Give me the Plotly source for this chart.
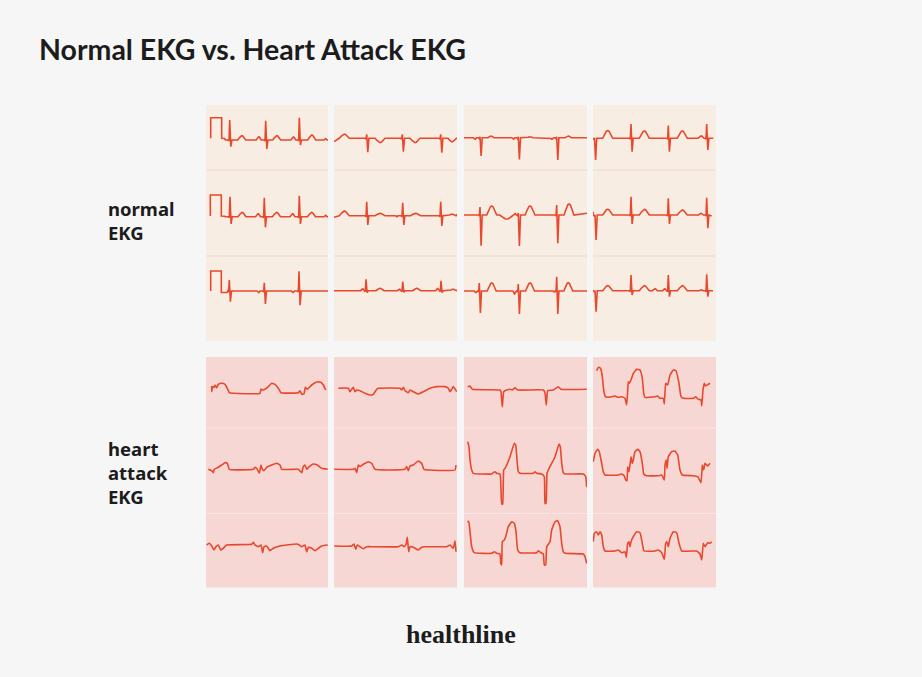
import plotly.graph_objects as go

W, H = 922, 677

# ------------------------------------------------------------------ data
# Time axis: small-square units measured from each panel's left edge.
# Amplitude: units above (+) / below (-) the strip's isoelectric line.

# ---- normal EKG ----  (QRS = (x, R height, S depth); WAVES = (x, height, half width))
N11_CAL = [(4.7, 1.7), (4.7, 22.3), (15.7, 22.3), (15.7, 1.7), (18.5, 1.5), (19.5, 0)]
N11_QRS = [(23.7, 20, 6.7), (59.7, 19.3, 9), (93.3, 22.3, 5)]
N11_WAVES = [(35.7, 4.3, 4), (52.7, 3.3, 2.5), (70.7, 4.3, 4), (87.3, 3, 2.5), (105.7, 5, 4), (119.5, 1.5, 1.5)]
N11_ENDS = [(4.7, 1.7), (122, 0)]

N12_CAL = [(4.3, 0.7), (4.3, 21.7), (15.3, 21.7), (15.3, 0.7), (18.5, 0.5), (19.5, 0)]
N12_QRS = [(24, 20, 7.3), (58.3, 19, 10.6), (93.3, 21, 7.3)]
N12_WAVES = [(36, 4.4, 4), (52, 3, 2.5), (70.5, 4.4, 4), (86.5, 3, 2.5), (105.5, 4.4, 4), (119.5, 1.5, 1.5)]
N12_ENDS = [(4.3, 0.7), (122, 0)]

N13_CAL = [(4.7, 0), (4.7, 20), (15.3, 20), (15.3, -1.5), (21, -1.5)]
N13_QRS = [(23.3, 11, 10.7), (58.3, 8.3, 13), (93, 19.7, 14.3)]
N13_WAVES = [(52.5, -1.7, 1.5), (87, -1.7, 1.5)]
N13_ENDS = [(4.7, 0), (122, 0)]

N21_QRS = [(32.7, 4, 14), (68.3, 4, 13.4), (106.7, 4, 14.4)]
N21_WAVES = [(10.3, 4.3, 5), (46, -4.3, 5), (81, -4.3, 5), (118, -3.5, 4)]
N21_ENDS = [(0, -3.3), (123, 0.5)]

N22_QRS = [(32.7, 14, 9.3), (68.7, 13, 9.3), (106.7, 14, 10.3)]
N22_WAVES = [(10.3, 4.7, 5), (46, 2.3, 5), (62.7, -1, 1.2), (81.5, 2.3, 5), (118, 1.5, 4)]
N22_ENDS = [(0, -1.6), (123, 1.4)]

N23_QRS = [(32, 11.3, 2), (68.7, 9, 1.7), (107, 10, 2)]
N23_WAVES = [(28.5, 2, 1.8), (46, 2.3, 4), (65, 1.5, 2), (82.7, 2.3, 4), (103.5, 2.3, 1.8), (119, 1.5, 3)]
N23_ENDS = [(0, 0), (123, 0)]

N31_QRS = [(16, 1, 18.3), (54.3, 1, 21.7), (92.7, 1, 22.3)]
N31_WAVES = [(11, -1.7, 1.5), (27, 1.7, 3), (49.3, -1.5, 1.5), (66, 1, 3), (88, -1.5, 1.5), (104.3, 1.7, 3)]
N31_ENDS = [(0, 0), (123, 0)]

N32_QRS = [(16, 8, 30.7), (54.3, 2, 31), (92.7, 10, 28.3)]
N32_WAVES = [(27.7, 9, 5), (42.7, -4, 7), (51, 1.5, 1), (66, 9, 5), (105, 11, 5)]
N32_ENDS = [(0, 0), (123, 1.7)]

N33_QRS = [(15.3, 8, 22), (54.3, 7, 23), (92.7, 14.3, 23)]
N33_WAVES = [(11.7, -1.7, 1.5), (27.7, 8, 4.5), (50.5, -3, 1.5), (66, 8, 4.5), (89.8, -1, 1), (104.3, 8.3, 4.5)]
N33_ENDS = [(0, 0), (123, 0)]

N41_QRS = [(1.5, 0.5, 21.7), (38, 14.3, 13.3), (75.3, 12.7, 13.3), (113.7, 14.3, 11.7)]
N41_WAVES = [(14.7, 7.7, 5), (51.3, 7.3, 5), (89.3, 7.3, 5), (108, 2.5, 3)]
N41_ENDS = [(0, 0), (120.3, 0)]

N42_QRS = [(2, 0, 25), (38, 18.3, 9), (75.3, 16.7, 9), (113.7, 17.3, 13.3)]
N42_WAVES = [(14.7, 5.7, 5), (51.3, 5.7, 5), (89.3, 5, 5), (108, 1.7, 2.5)]
N42_ENDS = [(0, 3.3), (118.7, -1)]

N43_QRS = [(2, 0, 21), (38, 15.7, 4.3), (75.3, 15.7, 6), (113.7, 16.3, 6)]
N43_WAVES = [(14.7, 5, 5), (51.3, 5, 5), (62, 2, 2.5), (71.5, 2, 1.8), (89.3, 5, 5), (108, 1, 2)]
N43_ENDS = [(0, 0), (120, 0)]

# ---- heart attack EKG ---- (traced points: time, amplitude)
H11 = [(5.7, 6.7), (5.7, 1), (6.7, 6), (8, 5.3), (9, 7.7), (10.7, 5), (12.3, 8.3), (15.7, 9.4), (19, 8.4),
       (21.3, 4.4), (23.3, 0), (27.3, -0.6), (54, -0.6), (55, 3.7), (56.7, 2.7), (59, 3.4), (62.3, 6),
       (65.7, 9.4), (69, 8.4), (72.3, 4.4), (75, 0), (92.3, 0), (94, 2), (95.7, -1.6), (98, -1.3),
       (99.3, 5.4), (101.3, 3.4), (105.7, 7.7), (110.7, 10.7), (114.7, 10.4), (117.3, 7.7), (119.7, 2.7)]
H12 = [(2.3, 0), (5.7, -1.4), (7.3, -3.4), (8.3, 0), (12.3, 2), (15.7, 4.3), (19, 6.6), (21.3, 6), (23.3, 0),
       (47.3, 0), (49, 2), (51.3, 0), (53.3, -4), (55, 4.3), (56.3, 0), (58, -1.4), (60.7, 2), (65.7, 4.3),
       (70.7, 6), (74, 4.3), (75.7, 0), (92.3, 0), (94, -1.7), (95.7, -3.4), (97.3, 2.7), (99, 4.3),
       (100.7, 0), (103.3, 2.7), (107.3, 5.3), (111.3, 4.3), (115.7, 1), (121.7, 0)]
H13 = [(0.7, -0.7), (3.3, 1), (5.7, -1.7), (8, -5.7), (10, -2.3), (12.3, -0.7), (14.7, -5.7), (17.3, -4),
       (20.7, -0.7), (45.7, 0), (47.3, 2), (49, -0.7), (52.3, -2.4), (55, -0.7), (56.7, -8.4), (58, -2.4),
       (60.7, -1.7), (64, -6.4), (67.3, -4), (74, -1.7), (90.7, 0.3), (93.3, -0.7), (95.7, -2.4), (99, -0.7),
       (100.7, -7.7), (102.3, -3), (105.7, -4), (109, -6.4), (112.3, -4), (115.7, -1.7), (121.7, -0.7)]
H21 = [(4.3, 0), (14.3, 0), (16, -3.4), (17.7, -1), (19.3, 1), (21, -3.4), (22.7, -1.7), (26, -2.4), (31, -5),
       (36, -6.7), (39.3, -6), (42.7, -1), (44.3, 0), (66, 0), (67.7, -1.7), (69.3, 1), (71, -2.4), (74.3, -4.4),
       (76, -1.7), (79.3, -3.4), (84.3, -5.7), (89.3, -3.4), (96, 0), (102.7, 1.7), (111, 1.7), (114.3, 0),
       (116, -3.4), (117.7, -1), (119.3, 1.7), (122.7, -3.4)]
H22 = [(0.3, 0), (19.3, 0), (21, 1), (22.7, -3.4), (24.3, 4.3), (26, 2.7), (29.3, 5), (34.3, 7.6), (37.7, 6),
       (41, 0), (71, 0), (72.7, 2.7), (74.3, -1.4), (76, 3.3), (79.3, 4.3), (84.3, 8.3), (87.7, 6), (90, 0),
       (121, -0.7), (122, 4.3)]
H23 = [(0.3, 0), (17.7, 0), (20, 2), (21.7, -3.3), (23.3, 1), (26, -0.7), (29.3, -2.7), (32.7, -0.7),
       (39.3, -0.7), (64.3, -0.7), (67.7, 1), (70, -0.7), (72, 1.7), (73.3, 8.7), (74.7, -5.7), (76, -0.7),
       (79.3, -1.3), (84.3, -4), (87.7, -1.3), (91, -0.7), (112.7, -0.7), (116, 1), (119.3, -2.3), (121, 5.3),
       (122, -5.7)]
H31 = [(3.7, 2.6), (6, 3.3), (8.3, 0), (36, -0.7), (37, -2.4), (38.3, -17.4), (39.7, -2.4), (42.7, -0.7),
       (46, 0), (48.3, -0.7), (51, 1.6), (53.7, -0.7), (79.3, -0.7), (81, -3.4), (82.3, -15.7), (83.7, -1.3),
       (89.3, -0.7), (94.3, 2.6), (97, 0), (122.7, 0)]
H32 = [(3.7, 32.3), (5, 27.3), (6, 14), (7.7, 4), (9.3, 0.7), (27.7, 0), (29.3, 1.3), (31, 2.3), (32.7, 0.7),
       (36, 0), (37, -16), (37.7, -30), (38.7, -30), (39.7, 4), (41, 5.7), (46, 17.3), (50.3, 30.7), (51.7, 29),
       (53, 14), (54.3, 2.3), (56, 0.7), (69.3, 0.7), (71, 2.3), (72.7, 0.7), (77.7, 0), (80.3, -2.7),
       (81, -29.3), (82, -29.3), (83, 0.7), (84.3, 4), (91, 17.3), (95, 30), (96.3, 27.3), (97.7, 10.7),
       (99.3, 1.3), (101, 0), (119.3, 0), (121.7, -2.7), (122.7, -13.3)]
H33 = [(3.7, 32.6), (5, 30.6), (6, 21.6), (7.7, 6.6), (10.3, 0.6), (27.7, 0), (30.3, 1.6), (32.7, 0), (36, -0.7),
       (36.7, -10), (37.7, -11.7), (38.3, 11.6), (40.3, 13.3), (41.7, 16.6), (44.3, 26.6), (47.7, 31.6),
       (50.3, 30), (52, 21.6), (53.7, 3.3), (56, 0.6), (72.7, 0.6), (74.3, 2.6), (77, 0.6), (79.3, -0.7),
       (80.3, -11.7), (81.7, -11.7), (82.7, 6.6), (86, 11.6), (87.7, 23.3), (91, 31.6), (93.7, 32.6), (96, 26.6),
       (97.7, 10), (99.3, 1.6), (101, 0), (119.3, -0.7), (121, -3.3), (122.7, -10)]
H41 = [(3.7, 27.6), (4.7, 30), (6.3, 31), (8, 29), (9.3, 21.6), (10.7, 8.3), (12, 2.3), (13.7, 1), (18.7, 1.6),
       (22, 2.3), (25.3, 1), (28.7, 1.6), (32, 0), (33.7, -6.7), (34.7, 8.3), (35.3, 16.6), (36.3, 15), (38, 18.3),
       (40.3, 25), (43.7, 29), (47, 28.3), (49.3, 20), (50.7, 5), (52, 1), (62, 1.6), (64.7, 2.3), (67, 0),
       (70.3, 0), (71.3, -5.7), (72.7, 15), (74.7, 13.3), (77, 23.3), (80.3, 28.3), (83, 27.6), (86, 15),
       (88, 1.6), (90.3, 0), (100.3, 0), (102.7, 1.6), (105.3, -1), (108, -1.7), (108.7, -7.7), (110, 8.3),
       (111.3, 15), (112.7, 12.3), (115.3, 14), (117, 15)]
H42 = [(0.3, 13.3), (2, 21.7), (4.7, 25.7), (6.3, 23.3), (8.7, 11.7), (10.3, 3.3), (12, 0), (25.3, 0), (28.7, 1),
       (31.3, -1), (32.7, -5), (34, -5.7), (34.7, 8.3), (36, 3.3), (37, 10), (38, 18.3), (39.3, 11.7), (40.3, 15),
       (42, 23.3), (44.7, 25.7), (47, 23.3), (49.3, 11.7), (50.7, 1), (53.7, -0.7), (65.3, -0.7), (68.7, 0),
       (71.3, -5), (72, 10), (73.3, 15), (74, 6.7), (75.3, 18.3), (78.7, 23.3), (82, 24), (84.7, 20), (87, 5),
       (89.3, 0), (100.3, -0.7), (104.7, -1.7), (108, -7.7), (109.3, 10), (110.7, 5), (112, 11.7), (114.7, 9),
       (117, 11.7)]
H43 = [(0.3, 10), (1.3, 18.4), (3.7, 20), (5.3, 16.7), (7, 20), (8.7, 16.7), (10.3, 5), (12, 0.7), (22, 0.7),
       (25.3, 1.7), (28.7, -1), (32, 0), (33.3, -5.6), (34.7, 8.4), (36, 10), (37, 5), (38, 10), (40.3, 15),
       (43.7, 20), (47, 19), (49.3, 8.4), (51, 0.7), (62, 0.7), (65.3, 1.7), (68.7, -1), (71.3, -7.6), (72.7, 8.4),
       (74, 10), (75.3, 5), (77, 13.4), (80.3, 20), (83.7, 19), (86, 8.4), (88.7, 0.7), (100.3, 0.7),
       (103.7, 0.7), (107, -2.3), (108.7, -8.3), (110.3, 8.4), (112, 5), (114.7, 9), (117, 8.4), (118.7, 10)]

TITLE = "Normal EKG vs. Heart Attack EKG"
ROW_LABELS = ["normal<br>EKG", "heart<br>attack<br>EKG"]
BRAND = "healthline"

# ------------------------------------------------------------------ waveform templates
QRS_DX = [-1.6, -0.7, 0.0, 1.1, 2.2]
BUMP_DX = [-1, -0.6, -0.25, 0, 0.25, 0.6, 1]
BUMP_FY = [0, 0.5, 0.92, 1, 0.92, 0.5, 0]


def normal_strip(ends, qrs, waves, cal=None):
    feats = []
    for x, r, s in qrs:
        feats.append([(x + d, y) for d, y in zip(QRS_DX, [0, -1, r, -s, 0])])
    for x, h, w in waves:
        feats.append([(x + d * w, h * f) for d, f in zip(BUMP_DX, BUMP_FY)])
    if cal:
        feats.append(list(cal))
    feats.sort(key=lambda f: f[0][0])
    pts = [ends[0]] + [p for f in feats for p in f] + [ends[1]]
    return [p[0] for p in pts], [p[1] for p in pts]


def traced(pts):
    return [p[0] for p in pts], [p[1] for p in pts]


# strips[block][row][col]
STRIPS = [
    [
        [normal_strip(N11_ENDS, N11_QRS, N11_WAVES, N11_CAL), normal_strip(N21_ENDS, N21_QRS, N21_WAVES),
         normal_strip(N31_ENDS, N31_QRS, N31_WAVES), normal_strip(N41_ENDS, N41_QRS, N41_WAVES)],
        [normal_strip(N12_ENDS, N12_QRS, N12_WAVES, N12_CAL), normal_strip(N22_ENDS, N22_QRS, N22_WAVES),
         normal_strip(N32_ENDS, N32_QRS, N32_WAVES), normal_strip(N42_ENDS, N42_QRS, N42_WAVES)],
        [normal_strip(N13_ENDS, N13_QRS, N13_WAVES, N13_CAL), normal_strip(N23_ENDS, N23_QRS, N23_WAVES),
         normal_strip(N33_ENDS, N33_QRS, N33_WAVES), normal_strip(N43_ENDS, N43_QRS, N43_WAVES)],
    ],
    [
        [traced(H11), traced(H21), traced(H31), traced(H41)],
        [traced(H12), traced(H22), traced(H32), traced(H42)],
        [traced(H13), traced(H23), traced(H33), traced(H43)],
    ],
]

# ------------------------------------------------------------------ layout geometry (pixels)
COL_LEFT = [206, 334, 464, 593]
COL_RIGHT = [328, 457, 587, 716]
BLOCK_TOP = [105, 357]
BLOCK_BOTTOM = [341, 587.5]
ROW_EDGES = [[105, 170, 256, 341], [357, 428, 513.5, 587.5]]
BASELINE = [
    [[140, 138.3, 137.7, 138.3], [216.7, 215.7, 215, 215], [291, 290.7, 291, 290.7]],
    [[392.7, 388.3, 389.3, 398.3], [469.3, 469.3, 474, 475], [544.3, 546, 553.3, 551.7]],
]
LABEL_CENTER = [220, 472]
PANEL_FILL = ["#f8ede2", "#f6d7d4"]
DIVIDER = ["#f2d9cf", "#f9e7e5"]
TRACE = "#e8482d"
BG = "#f6f6f6"
INK = "#1c1c1c"

fig = go.Figure()
layout = {}
k = 0
for b in range(2):
    for r in range(3):
        top, bot = ROW_EDGES[b][r], ROW_EDGES[b][r + 1]
        for c in range(4):
            k += 1
            xs, ys = STRIPS[b][r][c]
            left, right = COL_LEFT[c], COL_RIGHT[c]
            base = BASELINE[b][r][c]
            sx = "" if k == 1 else str(k)
            line = dict(color=TRACE, width=1.6)
            if b == 1:
                line.update(shape="spline", smoothing=0.35)
            fig.add_trace(go.Scatter(x=xs, y=ys, mode="lines", xaxis="x" + sx, yaxis="y" + sx,
                                     line=line, hoverinfo="skip", showlegend=False))
            layout["xaxis" + sx] = dict(domain=[left / W, right / W], range=[0, right - left], visible=False,
                                        fixedrange=True, anchor="y" + sx)
            layout["yaxis" + sx] = dict(domain=[1 - bot / H, 1 - top / H], range=[-(bot - base), base - top],
                                        visible=False, fixedrange=True, anchor="x" + sx)

shapes = []
for b in range(2):
    for c in range(4):
        shapes.append(dict(type="rect", xref="paper", yref="paper", layer="below", line=dict(width=0),
                           fillcolor=PANEL_FILL[b], x0=COL_LEFT[c] / W, x1=COL_RIGHT[c] / W,
                           y0=1 - BLOCK_BOTTOM[b] / H, y1=1 - BLOCK_TOP[b] / H))
        for yd in ROW_EDGES[b][1:3]:
            shapes.append(dict(type="line", xref="paper", yref="paper", layer="below",
                               line=dict(color=DIVIDER[b], width=1.2),
                               x0=COL_LEFT[c] / W, x1=COL_RIGHT[c] / W, y0=1 - yd / H, y1=1 - yd / H))

annotations = [dict(text=TITLE, x=37 / W, y=1 - 48.5 / H, xref="paper", yref="paper", xanchor="left",
                    yanchor="middle", showarrow=False,
                    font=dict(family="Lato", size=28.5, color=INK, weight=700))]
for b in range(2):
    annotations.append(dict(text=ROW_LABELS[b], x=106 / W, y=1 - LABEL_CENTER[b] / H, xref="paper",
                            yref="paper", xanchor="left", yanchor="middle", align="left", showarrow=False,
                            font=dict(family="Noto Sans", size=18.5, color=INK, weight=700)))
annotations.append(dict(text=BRAND, x=461 / W, y=1 - 634 / H, xref="paper", yref="paper", xanchor="center",
                        yanchor="middle", showarrow=False,
                        font=dict(family="Liberation Serif", size=26, color=INK, weight=700)))

fig.update_layout(width=W, height=H, margin=dict(l=0, r=0, t=0, b=0), paper_bgcolor=BG, plot_bgcolor=BG,
                  shapes=shapes, annotations=annotations, **layout)
fig.write_html("out.html", config={"displayModeBar": False})
